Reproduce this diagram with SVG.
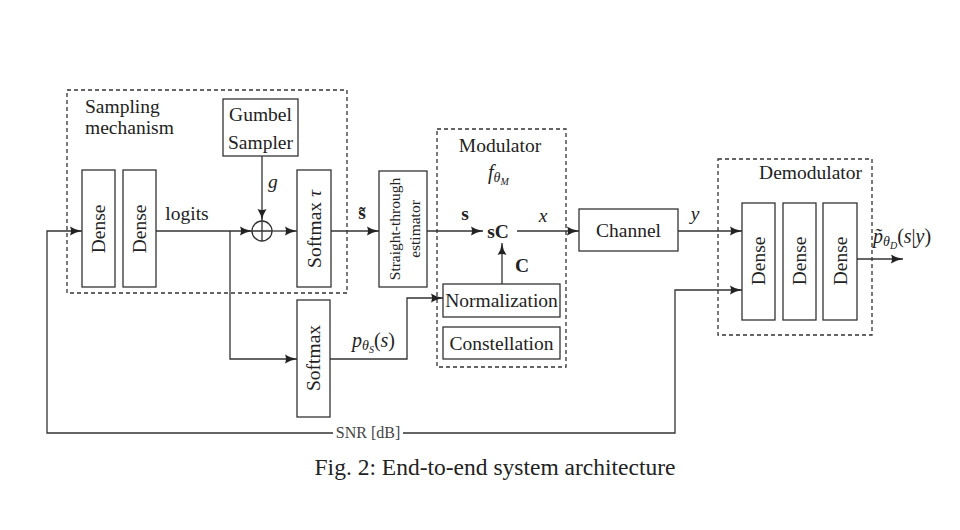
<svg xmlns="http://www.w3.org/2000/svg" width="960" height="530" viewBox="0 0 960 530" font-family="'Liberation Serif','DejaVu Serif',serif">
<defs>
<marker id="ah" markerWidth="14" markerHeight="10" refX="12" refY="5" orient="auto" markerUnits="userSpaceOnUse">
<path d="M0,0.5 Q5,4 12,5 Q5,6 0,9.5 Q2,5 0,0.5 z" fill="#222"/>
</marker>
</defs>
<style>
.box{fill:#fff;stroke:#333;stroke-width:1.3}
.dash{fill:none;stroke:#333;stroke-width:1.3;stroke-dasharray:4 3}
.ln{fill:none;stroke:#333;stroke-width:1.3}
.ar{marker-end:url(#ah)}
text{font-family:'Liberation Serif','DejaVu Serif',serif;fill:#222;font-size:19.5px}
.c{text-anchor:middle}
.it{font-style:italic}
.bf{font-weight:bold}
.sub{font-size:14px;font-style:italic}
.sub2{font-size:10px;font-style:italic}
</style>
<rect width="960" height="530" fill="#fff"/>

<g id="sampling">
<rect class="dash" x="67" y="90" width="280" height="203"/>
<text x="85" y="113">Sampling</text>
<text x="85" y="134">mechanism</text>
</g>
<g id="dense1"><rect class="box" x="82" y="170" width="33" height="117"/><text class="c" transform="translate(98.5,229) rotate(-90)" y="6.5">Dense</text></g>
<g id="dense2"><rect class="box" x="123" y="170" width="33" height="117"/><text class="c" transform="translate(139.5,229) rotate(-90)" y="6.5">Dense</text></g>
<g id="gumbel"><rect class="box" x="223" y="99" width="75" height="57"/><text class="c" x="260.5" y="121">Gumbel</text><text class="c" x="260.5" y="149">Sampler</text></g>
<g id="adder"><circle cx="262" cy="231" r="10" fill="#fff" stroke="#333" stroke-width="1.3"/><path class="ln" d="M252,231 H272 M262,221 V241"/></g>
<g id="softmaxtau"><rect class="box" x="297" y="170" width="34" height="117"/><text class="c" transform="translate(314,229) rotate(-90)" y="6.5">Softmax <tspan class="it">τ</tspan></text></g>
<g id="softmax2"><rect class="box" x="297" y="300" width="33" height="117"/><text class="c" transform="translate(313.5,358) rotate(-90)" y="6.5">Softmax</text></g>
<g id="ste"><rect class="box" x="379" y="171" width="48" height="116"/><text class="c" style="font-size:15.5px" transform="translate(403,229) rotate(-90)"><tspan x="0" y="-3">Straight-through</tspan><tspan x="0" y="17">estimator</tspan></text></g>

<g id="modulator">
<rect class="dash" x="437" y="129" width="129" height="238"/>
<text class="c" x="500" y="152">Modulator</text>
<text x="488" y="179" class="it" style="font-size:20px">f<tspan class="sub" dy="3">θ</tspan><tspan class="sub2" dy="3">M</tspan></text>
<text class="c bf" x="498" y="238">sC</text>
</g>
<g id="normalization"><rect class="box" x="443" y="284" width="117" height="33"/><text class="c" x="501.5" y="307">Normalization</text></g>
<g id="constellation"><rect class="box" x="443" y="327" width="117" height="32"/><text class="c" x="501.5" y="350">Constellation</text></g>
<g id="channel"><rect class="box" x="579" y="209" width="99" height="42"/><text class="c" x="628.5" y="237">Channel</text></g>
<g id="demodulator">
<rect class="dash" x="718" y="159" width="154" height="176"/>
<text x="862" y="179" style="text-anchor:end">Demodulator</text>
</g>
<g id="ddense1"><rect class="box" x="742" y="203" width="33" height="117"/><text class="c" transform="translate(758.5,261) rotate(-90)" y="6.5">Dense</text></g>
<g id="ddense2"><rect class="box" x="783" y="203" width="33" height="117"/><text class="c" transform="translate(799.5,261) rotate(-90)" y="6.5">Dense</text></g>
<g id="ddense3"><rect class="box" x="823" y="203" width="34" height="117"/><text class="c" transform="translate(840,261) rotate(-90)" y="6.5">Dense</text></g>

<g id="connectors">
<path class="ln ar" d="M333,433 H47 V231 H82"/>
<path class="ln ar" d="M403,433 H675 V290 H742"/>
<path class="ln ar" d="M156,231 H252"/>
<path class="ln ar" d="M230,231 V359 H297"/>
<path class="ln ar" d="M262,156 V221"/>
<path class="ln ar" d="M272,231 H297"/>
<path class="ln ar" d="M331,231 H379"/>
<path class="ln ar" d="M427,231 H483"/>
<path class="ln ar" d="M517,231 H579"/>
<path class="ln ar" d="M502,284 V243"/>
<path class="ln ar" d="M330,359 H407 V298 H443"/>
<path class="ln ar" d="M678,231 H742"/>
<path class="ln ar" d="M857,259 H903"/>
<text class="c" x="187" y="220">logits</text>
<text class="it" x="268" y="188">g</text>
<text class="c bf" x="362" y="219">s̃</text>
<text class="c bf" x="465" y="220">s</text>
<text class="c it" x="543" y="222">x</text>
<text class="c bf" x="522" y="272">C</text>
<text class="c it" x="695" y="220">y</text>
<text x="352" y="347" style="font-size:20px"><tspan class="it">p</tspan><tspan class="sub" dy="3">θ</tspan><tspan class="sub2" dy="3">S</tspan><tspan dy="-6">(</tspan><tspan class="it">s</tspan>)</text>
<text x="873" y="243" style="font-size:20px"><tspan class="it">p̃</tspan><tspan class="sub" dy="3">θ</tspan><tspan class="sub2" dy="3">D</tspan><tspan dy="-6">(</tspan><tspan class="it">s</tspan>|<tspan class="it">y</tspan>)</text>
<text class="c" x="368" y="438" style="font-size:16px;fill:#444">SNR [dB]</text>
</g>
<text class="c" x="495" y="475" style="font-size:23.5px">Fig. 2: End-to-end system architecture</text>
</svg>
